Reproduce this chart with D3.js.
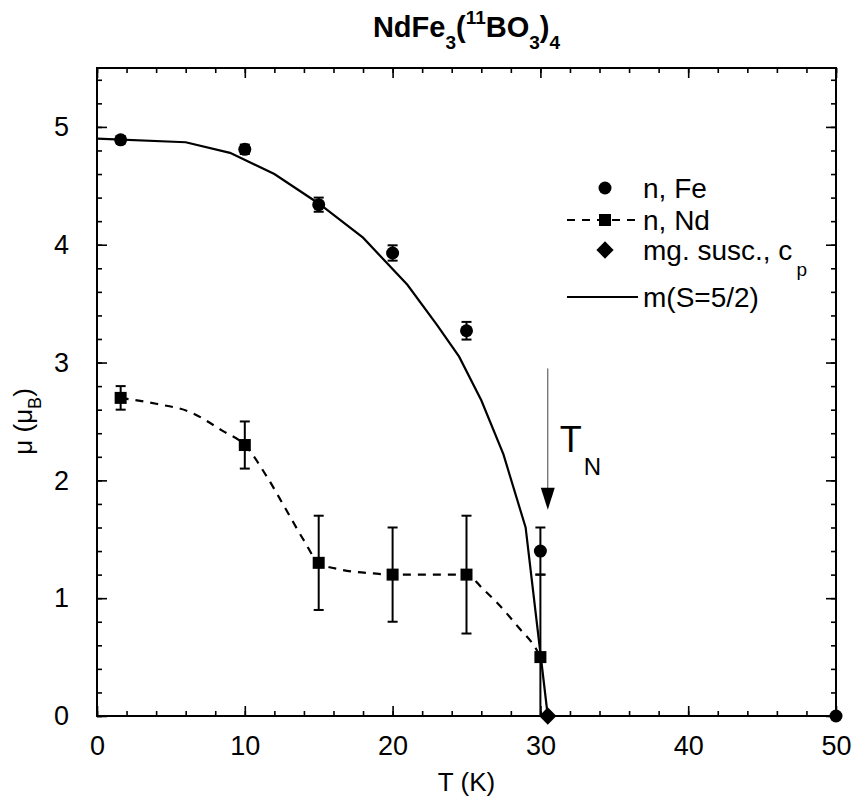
<!DOCTYPE html>
<html>
<head>
<meta charset="utf-8">
<script src="https://cdn.jsdelivr.net/npm/d3@7"></script>
<style>
  body { margin: 0; background: #fff; }
  svg { font-family: "Liberation Sans", Arial, Helvetica, sans-serif; }
</style>
</head>
<body>
<div id="chart"></div>
<script>
// values
const feT   = [1.6, 10, 15, 20, 25, 30, 50];
const feMu  = [4.89, 4.81, 4.34, 3.93, 3.27, 1.40, 0];
const feErr = [0.03, 0.04, 0.06, 0.065, 0.075, 0.2, 0];

const ndT   = [1.6, 10, 15, 20, 25, 30];
const ndMu  = [2.70, 2.30, 1.30, 1.20, 1.20, 0.50];
const ndErr = [0.1, 0.2, 0.4, 0.4, 0.5, 0.7];

// hand drawn guide through the Nd points
const ndGuideT  = [1.6, 4, 6.3, 8.5, 10, 11.5, 12.8, 14, 15, 16.6, 18.7, 20, 25, 26.1, 27, 28.6, 29.75, 30];
const ndGuideMu = [2.70, 2.65, 2.58, 2.42, 2.30, 2.03, 1.75, 1.49, 1.30, 1.24, 1.21, 1.20, 1.20, 1.08, 0.97, 0.74, 0.56, 0.50];

const chiT  = [30.5];
const chiMu = [0];

// m(S=5/2) curve
const modelT  = [0, 6, 9, 12, 15, 18, 21, 23, 24.5, 26, 27.5, 29, 30.5];
const modelMu = [4.90, 4.87, 4.78, 4.60, 4.35, 4.06, 3.66, 3.32, 3.05, 2.68, 2.22, 1.60, 0];

const tN = 30.5;
const arrowTop = 2.95, arrowTip = 1.75;

const xTicks = [0, 10, 20, 30, 40, 50];
const yTicks = [0, 1, 2, 3, 4, 5];
const xMinor = d3.range(0, 50.01, 2);
const yMinor = d3.range(0, 5.51, 0.2);

const width = 853, height = 800;
const margin = {top: 68, right: 17, bottom: 84, left: 97};
const w = width - margin.left - margin.right;
const h = height - margin.top - margin.bottom;

const svg = d3.select("#chart").append("svg")
    .attr("width", width)
    .attr("height", height);

const g = svg.append("g")
    .attr("transform", `translate(${margin.left},${margin.top})`);

const x = d3.scaleLinear().domain([0, 50]).range([0, w]);
const y = d3.scaleLinear().domain([0, 5.5]).range([h, 0]);

svg.append("defs").append("clipPath").attr("id", "plotclip")
  .append("rect").attr("width", w).attr("height", h);

// axes: ticks point inward on all four sides
function styleAxis(sel) {
  sel.select(".domain").remove();
  sel.selectAll("line").attr("stroke", "#000").attr("stroke-width", 1.6);
  sel.selectAll("text").attr("fill", "#000")
    .style("font-family", '"Liberation Sans Narrow", "Liberation Sans", Arial, sans-serif')
    .style("font-size", "27px");
}

g.append("g").attr("transform", `translate(0,${h})`)
  .call(d3.axisBottom(x).tickValues(xMinor).tickSize(-5).tickFormat(""))
  .call(styleAxis);
g.append("g").attr("transform", `translate(0,${h})`)
  .call(d3.axisBottom(x).tickValues(xTicks).tickSize(-10).tickPadding(20).tickFormat(d3.format("d")))
  .call(styleAxis);
g.append("g")
  .call(d3.axisTop(x).tickValues(xMinor).tickSize(-5).tickFormat(""))
  .call(styleAxis);
g.append("g")
  .call(d3.axisTop(x).tickValues(xTicks).tickSize(-10).tickFormat(""))
  .call(styleAxis);

g.append("g")
  .call(d3.axisLeft(y).tickValues(yMinor).tickSize(-5).tickFormat(""))
  .call(styleAxis);
g.append("g")
  .call(d3.axisLeft(y).tickValues(yTicks).tickSize(-10).tickPadding(28).tickFormat(d3.format("d")))
  .call(styleAxis);
g.append("g").attr("transform", `translate(${w},0)`)
  .call(d3.axisRight(y).tickValues(yMinor).tickSize(-5).tickFormat(""))
  .call(styleAxis);
g.append("g").attr("transform", `translate(${w},0)`)
  .call(d3.axisRight(y).tickValues(yTicks).tickSize(-10).tickFormat(""))
  .call(styleAxis);

g.append("rect")
  .attr("width", w).attr("height", h)
  .attr("fill", "none").attr("stroke", "#000").attr("stroke-width", 2);

// model curve
const line = d3.line().x(d => x(d[0])).y(d => y(d[1]));
g.append("path")
  .datum(modelT.map((t, i) => [t, modelMu[i]]))
  .attr("d", line)
  .attr("fill", "none").attr("stroke", "#000").attr("stroke-width", 2.2);

// Nd guide (dashed)
g.append("path")
  .datum(ndGuideT.map((t, i) => [t, ndGuideMu[i]]))
  .attr("d", line.curve(d3.curveMonotoneX))
  .attr("fill", "none").attr("stroke", "#000").attr("stroke-width", 2.2)
  .attr("stroke-dasharray", "8,7");

// error bars
const errG = g.append("g").attr("clip-path", "url(#plotclip)")
  .attr("stroke", "#000").attr("stroke-width", 2);
function errorBars(ts, ms, es) {
  ts.forEach((t, i) => {
    if (!es[i]) return;
    const cx = x(t), y1 = y(ms[i] + es[i]), y2 = y(ms[i] - es[i]);
    errG.append("line").attr("x1", cx).attr("x2", cx).attr("y1", y1).attr("y2", y2);
    errG.append("line").attr("x1", cx - 5).attr("x2", cx + 5).attr("y1", y1).attr("y2", y1);
    errG.append("line").attr("x1", cx - 5).attr("x2", cx + 5).attr("y1", y2).attr("y2", y2);
  });
}
errorBars(feT, feMu, feErr);
errorBars(ndT, ndMu, ndErr);

// markers
g.selectAll(".fe").data(feT).enter().append("circle")
  .attr("cx", d => x(d)).attr("cy", (d, i) => y(feMu[i])).attr("r", 6.5);

g.selectAll(".nd").data(ndT).enter().append("rect")
  .attr("x", d => x(d) - 6).attr("y", (d, i) => y(ndMu[i]) - 6)
  .attr("width", 12).attr("height", 12);

const diamond = d3.symbol().type(d3.symbolDiamond2).size(190);
g.selectAll(".chi").data(chiT).enter().append("path")
  .attr("transform", (d, i) => `translate(${x(d)},${y(chiMu[i])})`)
  .attr("d", diamond);

// T_N arrow
g.append("line")
  .attr("x1", x(tN)).attr("x2", x(tN))
  .attr("y1", y(arrowTop)).attr("y2", y(arrowTip) - 20)
  .attr("stroke", "#444").attr("stroke-width", 1);
g.append("path")
  .attr("d", `M${x(tN) - 7},${y(arrowTip) - 22}L${x(tN) + 7},${y(arrowTip) - 22}L${x(tN)},${y(arrowTip)}Z`)
  .attr("fill", "#000");
const tnLabel = g.append("text")
  .attr("x", x(tN) + 12).attr("y", y(2.24))
  .style("font-size", "36px");
tnLabel.append("tspan").text("T");
tnLabel.append("tspan").attr("dx", 2).attr("dy", 23).style("font-size", "24px").text("N");

// legend
const leg = svg.append("g").style("font-size", "28px");
const lx = 605, tx = 643;
leg.append("circle").attr("cx", lx).attr("cy", 188).attr("r", 6.5);
leg.append("text").attr("x", tx).attr("y", 198).text("n, Fe");

leg.append("line").attr("x1", 567).attr("x2", 638).attr("y1", 220).attr("y2", 220)
  .attr("stroke", "#000").attr("stroke-width", 2.2).attr("stroke-dasharray", "8,7");
leg.append("rect").attr("x", lx - 6).attr("y", 214).attr("width", 12).attr("height", 12);
leg.append("text").attr("x", tx).attr("y", 230).text("n, Nd");

leg.append("path").attr("transform", `translate(${lx},250)`).attr("d", diamond);
const cpText = leg.append("text").attr("x", tx).attr("y", 260);
cpText.append("tspan").text("mg. susc., c");
cpText.append("tspan").attr("dx", 4).attr("dy", 16).style("font-size", "19px").text("p");

leg.append("line").attr("x1", 567).attr("x2", 638).attr("y1", 297).attr("y2", 297)
  .attr("stroke", "#000").attr("stroke-width", 2.2);
leg.append("text").attr("x", tx).attr("y", 307).text("m(S=5/2)");

// title
const title = svg.append("text")
  .attr("x", margin.left + w / 2).attr("y", 37)
  .attr("text-anchor", "middle")
  .style("font-size", "29px").style("font-weight", "bold");
title.append("tspan").text("NdFe");
title.append("tspan").attr("dy", 12).style("font-size", "19px").text("3");
title.append("tspan").attr("dy", -12).text("(");
title.append("tspan").attr("dy", -13).style("font-size", "19px").text("11");
title.append("tspan").attr("dy", 13).text("BO");
title.append("tspan").attr("dy", 12).style("font-size", "19px").text("3");
title.append("tspan").attr("dy", -12).text(")");
title.append("tspan").attr("dy", 12).style("font-size", "19px").text("4");

// axis labels
svg.append("text")
  .attr("x", margin.left + w / 2).attr("y", 791)
  .attr("text-anchor", "middle")
  .style("font-size", "26px")
  .text("T (K)");

const yl = svg.append("text")
  .attr("transform", `translate(32,${margin.top + y(2.5)}) rotate(-90)`)
  .attr("text-anchor", "middle")
  .style("font-size", "26px");
yl.append("tspan").text("\u03bc (\u03bc");
yl.append("tspan").attr("dy", 9).style("font-size", "18px").text("B");
yl.append("tspan").attr("dy", -9).text(")");
</script>
</body>
</html>
